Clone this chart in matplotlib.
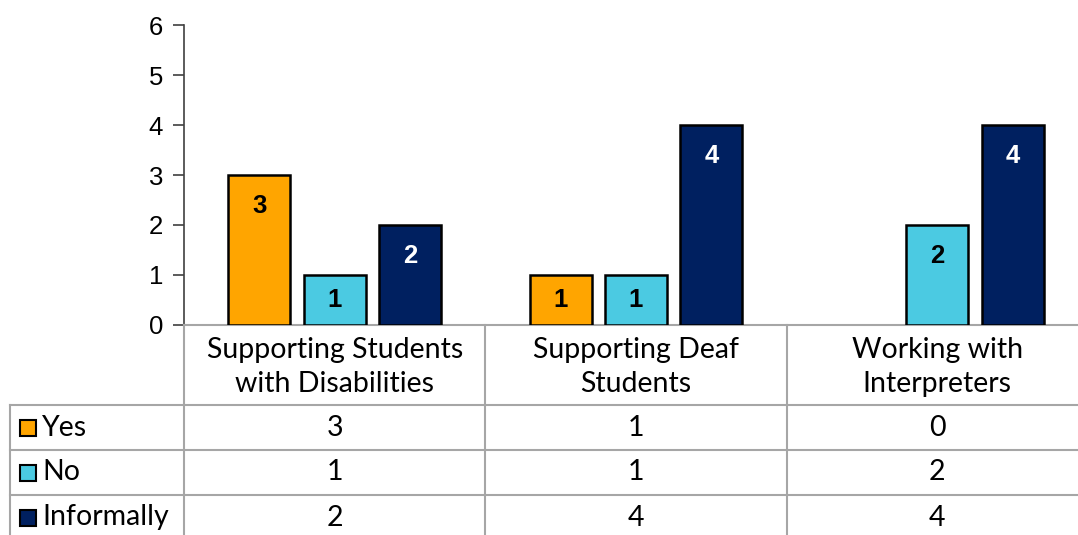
import matplotlib.pyplot as plt
import numpy as np

# chart data
categories = ['Supporting Students\nwith Disabilities', 'Supporting Deaf\nStudents',
              'Working with\nInterpreters']
series = ['Yes', 'No', 'Informally']
yes = [3, 1, 0]
no = [1, 1, 2]
informally = [2, 4, 4]
values = [yes, no, informally]
colors = ['#FFA500', '#4BCAE2', '#002060']
label_colors = ['black', 'black', 'white']

W, H = 1078, 535
fig = plt.figure(figsize=(W / 100, H / 100), dpi=100)

# plot area runs a bit past the right edge, like the original
left_px, right_px, top_px, zero_px = 184, 1088, 25, 325
ax = fig.add_axes([left_px / W, (H - zero_px) / H,
                   (right_px - left_px) / W, (zero_px - top_px) / H])

x = np.arange(len(categories))
width = 0.205
step = 0.25
for i, (name, vals) in enumerate(zip(series, values)):
    pos = x + (i - 1) * step
    bars = ax.bar(pos, vals, width, color=colors[i], edgecolor='black', linewidth=1.8, zorder=3)
    for b, px, v in zip(bars, pos, vals):
        if v == 0:
            b.set_visible(False)
            continue
        ty = max(v - 0.62, v / 2)
        ax.text(px, ty, str(v), ha='center', va='center', fontsize=18.5,
                fontweight='bold', color=label_colors[i],
                family='Liberation Sans', zorder=4)

ax.set_xlim(-0.5, len(categories) - 0.5)
ax.set_ylim(0, 6)
ax.set_yticks(range(7))
ax.set_xticks([])
ax.tick_params(axis='y', length=8, width=1.2, color='#404040', labelsize=18.5, pad=7)
for lab in ax.get_yticklabels():
    lab.set_family('Liberation Sans')
for s in ['top', 'right']:
    ax.spines[s].set_visible(False)
ax.spines['left'].set_color('#404040')
ax.spines['left'].set_linewidth(1.2)
ax.spines['bottom'].set_color('#a6a6a6')
ax.spines['bottom'].set_linewidth(1.5)
ax.set_facecolor('none')

# data table below the plot, sharing the category x scale
tab = fig.add_axes([left_px / W, 0, (right_px - left_px) / W, (H - zero_px) / H], sharex=ax)
tab.set_ylim(H - zero_px, 0)
tab.axis('off')

grid = '#a6a6a6'
lw = 1.5
px_per_unit = (right_px - left_px) / len(categories)
left_col = -0.5 - (left_px - 10) / px_per_unit
header_h, row_h = 80, 45
row_tops = [header_h + k * row_h for k in range(len(series) + 1)]

tfont = 'Lato'
tsize = 20.5
# vertical lines
for b in np.arange(len(categories) + 1) - 0.5:
    tab.plot([b, b], [0, 215], color=grid, lw=lw, clip_on=False)
tab.plot([left_col, left_col], [header_h, 215], color=grid, lw=lw, clip_on=False)
# horizontal lines
for yt in row_tops[:-1]:
    tab.plot([left_col, len(categories) - 0.5], [yt, yt], color=grid, lw=lw, clip_on=False)

for j, cat in enumerate(categories):
    tab.text(x[j], 42, cat, ha='center', va='center', fontsize=tsize,
             family=tfont, linespacing=1.35)

sw = 16 / px_per_unit
for i, name in enumerate(series):
    yc = row_tops[i] + row_h / 2
    tab.add_patch(plt.Rectangle((left_col + 10 / px_per_unit, yc - 8), sw, 16,
                                facecolor=colors[i], edgecolor='black', lw=1.5,
                                clip_on=False))
    tab.text(left_col + 32 / px_per_unit, yc, name, ha='left', va='center', fontsize=tsize,
             family=tfont)
    for j, v in enumerate(values[i]):
        tab.text(x[j], yc, str(v), ha='center', va='center', fontsize=tsize, family=tfont)

fig.savefig('out.png', dpi=100)
